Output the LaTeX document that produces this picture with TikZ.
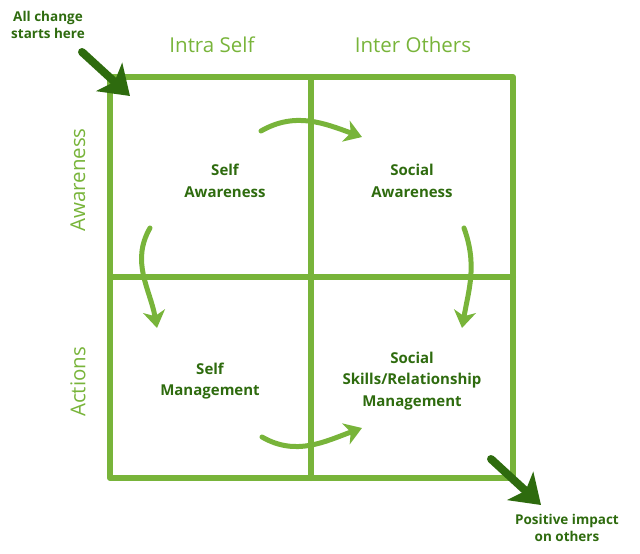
\documentclass[tikz,border=0pt]{standalone}
\usepackage{fontspec}
\setmainfont{Open Sans}
\usetikzlibrary{arrows.meta}
\definecolor{lgreen}{HTML}{78B43A}
\definecolor{dgreen}{HTML}{2E6B0E}
\tikzset{
  grid/.style={draw=lgreen,line width=6pt},
  cell/.style={text=dgreen,font=\bfseries\fontsize{15}{21.5}\selectfont,align=center},
  head/.style={text=lgreen,font=\fontsize{20.5}{24}\selectfont},
  flow/.style={draw=lgreen,line width=5pt,-{Stealth[length=17pt,width=22pt,inset=5pt]}},
  big/.style={draw=dgreen,line width=8pt,-{Stealth[length=28pt,width=38pt,inset=7pt]}}
}
\begin{document}
\begin{tikzpicture}[x=1pt,y=-1pt,line cap=round,line join=round]
\useasboundingbox (0,0) rectangle (640,554);

\draw [grid] (110,77) rectangle (513,478);
\draw [grid] (311,77) -- (311,478);
\draw [grid] (110,277) -- (513,277);

\node [head] (intra) at (212,45) {Intra Self};
\node [head] (inter) at (413,45) {Inter Others};
\node [head,rotate=90] (aware) at (78,180) {Awareness};
\node [head,rotate=90] (act) at (78,382) {Actions};

\node [cell] (sa) at (225,181) {Self\\Awareness};
\node [cell] (soa) at (412,181) {Social\\Awareness};
\node [cell] (sm) at (210,381) {Self\\Management};
\node [cell] (ssm) at (412,381) {Social\\Skills/Relationship\\Management};

\coordinate (t1) at (261,131);
\coordinate (t2) at (362,137);
\coordinate (l1) at (150,228);
\coordinate (l2) at (157,328);
\coordinate (r1) at (464,228);
\coordinate (r2) at (462,328);
\coordinate (b1) at (262,437);
\coordinate (b2) at (362,428);

\draw [flow] (t1) to[out=30,in=160] (t2);
\draw [flow] (l1) to[out=240,in=100] (l2);
\draw [flow] (r1) to[out=290,in=80] (r2);
\draw [flow] (b1) to[out=-30,in=200] (b2);

\node [cell,font=\bfseries\fontsize{13.5}{17}\selectfont] (start) at (48,25) {All change\\starts here};
\node [cell,font=\bfseries\fontsize{13.5}{17}\selectfont] (impact) at (567,528) {Positive impact\\on others};
\coordinate (s1) at (82,52);
\coordinate (s2) at (130,96);
\coordinate (p1) at (491,459);
\coordinate (p2) at (541,505);
\draw [big] (s1) -- (s2);
\draw [big] (p1) -- (p2);
\end{tikzpicture}
\end{document}
